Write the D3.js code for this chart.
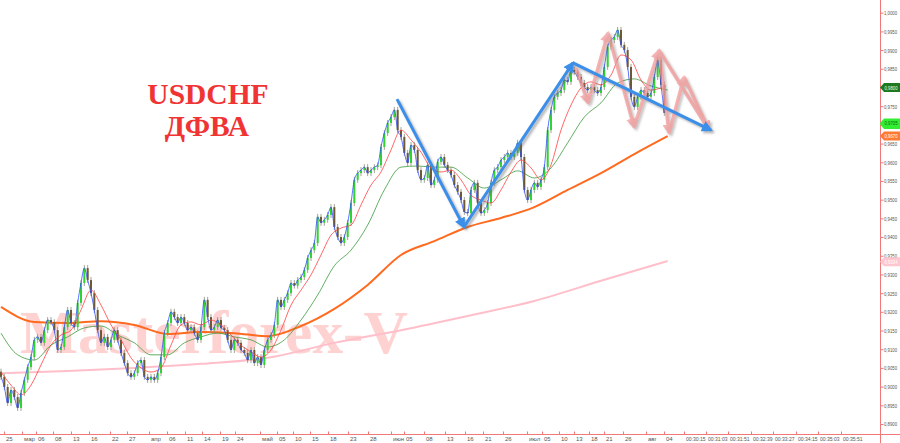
<!DOCTYPE html>
<html><head><meta charset="utf-8">
<script src="https://cdn.jsdelivr.net/npm/d3@7"></script>
<style>html,body{margin:0;padding:0;background:#fff;overflow:hidden}</style>
</head><body><svg id="c" width="900" height="443"></svg>
<script>
// ---- DATA ----
const firstOpen = 0.9040;
const closes = [
0.9026,0.8999,0.8956,0.8991,0.8972,0.8943,0.8983,0.9018,0.9052,0.9079,
0.9125,0.9133,0.9117,0.9151,0.9178,0.9172,0.9151,0.9098,0.9106,0.9159,
0.9205,0.9170,0.9159,0.9224,0.9277,0.9317,0.9285,0.9250,0.9205,0.9151,
0.9117,0.9133,0.9106,0.9125,0.9151,0.9125,0.9090,0.9063,0.9036,0.9026,
0.9036,0.9063,0.9071,0.9026,0.9018,0.9026,0.9018,0.9036,0.9079,0.9143,
0.9170,0.9200,0.9186,0.9170,0.9186,0.9170,0.9151,0.9159,0.9143,0.9125,
0.9159,0.9232,0.9186,0.9151,0.9159,0.9178,0.9157,0.9151,0.9125,0.9098,
0.9125,0.9117,0.9098,0.9090,0.9071,0.9098,0.9063,0.9079,0.9058,0.9098,
0.9125,0.9138,0.9165,0.9232,0.9213,0.9232,0.9250,0.9277,0.9270,0.9285,
0.9293,0.9312,0.9344,0.9365,0.9384,0.9454,0.9438,0.9446,0.9459,0.9480,
0.9427,0.9400,0.9384,0.9400,0.9438,0.9491,0.9553,0.9571,0.9579,0.9587,
0.9571,0.9579,0.9587,0.9592,0.9641,0.9678,0.9705,0.9721,0.9740,0.9686,
0.9668,0.9625,0.9598,0.9646,0.9633,0.9579,0.9553,0.9558,0.9593,0.9539,
0.9553,0.9601,0.9614,0.9593,0.9579,0.9566,0.9539,0.9521,0.9499,0.9467,
0.9464,0.9526,0.9545,0.9491,0.9464,0.9472,0.9491,0.9545,0.9579,0.9587,
0.9606,0.9614,0.9625,0.9614,0.9625,0.9652,0.9614,0.9526,0.9499,0.9526,
0.9545,0.9534,0.9553,0.9587,0.9686,0.9740,0.9775,0.9785,0.9793,0.9820,
0.9815,0.9847,0.9842,0.9828,0.9812,0.9801,0.9793,0.9801,0.9793,0.9785,
0.9801,0.9855,0.9908,0.9927,0.9935,0.9954,0.9914,0.9900,0.9855,0.9775,
0.9748,0.9775,0.9793,0.9785,0.9775,0.9785,0.9828,0.9874,0.9807,0.9732
];
// moving averages (one value every N candles)
const redStep = 3;
const redMA = [
0.9039,0.9004,0.8978,0.9004,0.9058,0.9111,0.9138,0.9151,0.9205,0.9258,
0.9218,0.9165,0.9125,0.9077,0.9050,0.9039,0.9050,0.9111,0.9165,0.9173,
0.9165,0.9178,0.9165,0.9138,0.9111,0.9093,0.9079,0.9098,0.9151,0.9218,
0.9258,0.9299,0.9352,0.9405,0.9424,0.9432,0.9486,0.9539,0.9574,0.9633,
0.9686,0.9660,0.9627,0.9585,0.9574,0.9579,0.9553,0.9512,0.9499,0.9491,
0.9526,0.9574,0.9606,0.9585,0.9553,0.9593,0.9686,0.9753,0.9799,0.9815,
0.9807,0.9833,0.9887,0.9874,0.9820,0.9793,0.9799
];
const greenStep = 5;
const greenMA = [
0.9143,0.9085,0.9071,0.9111,0.9133,0.9157,0.9162,0.9138,0.9117,0.9085,
0.9085,0.9117,0.9133,0.9143,0.9133,0.9125,0.9106,0.9125,0.9178,0.9245,
0.9323,0.9365,0.9432,0.9526,0.9587,0.9590,0.9587,0.9587,0.9558,0.9531,
0.9553,0.9577,0.9558,0.9585,0.9652,0.9721,0.9759,0.9812,0.9823,0.9804,
0.9793
];
const orangeStep = 10;
const orangeMA = [
0.9213,0.9173,0.9170,0.9175,0.9165,0.9141,0.9146,0.9143,0.9135,0.9162,
0.9208,0.9272,0.9352,0.9389,0.9427,0.9451,0.9480,0.9526,0.9571,0.9622,
0.9670
];
const pinkStep = 20;
const pinkMA = [0.9036,0.9042,0.9050,0.9061,0.9077,0.9117,0.9151,0.9189,0.9229,0.9283,0.9336];

const xTickIdx = [0.9,6.3,10.5,15.6,21,26.4,32.7,37.8,44.4,49.8,55.2,60.3,65.7,70.2,
 77.7,82.8,87.6,92.7,98.1,104.1,110.1,117,120.9,126.9,133.2,139.2,144.6,150.6,
 157.8,162.3,167.4,171.9,176.4,180.9,186.6,193.5,198.9,
 204.9,211.5,218.1,225,231.6,238.5,245.1,252];
const xTickLabels = ["25","мар","06","08","13","16","22","27","апр","06","11","14","19","24",
 "май","05","10","15","18","23","28","июн","05","08","13","16","21","26",
 "июл","05","10","13","18","21","26","авг","04",
 "00:30:15","00:31:03","00:31:51","00:32:39","00:33:27","00:34:15","00:35:03","00:35:51"];
const priceTicks = d3.range(0, 23).map(k => 0.89 + k * 0.005);

const tagValues = [0.9701, 0.9705, 0.9800, 0.9670, 0.9334];
const tagTexts = ["0,9701", "0,9705", "0,9800", "0,9670", "0,9334"];

const blueArrowIdx = [[118.8,138.9],[138.9,171.6],[171.6,213]];
const blueArrowPrice = [[0.9769,0.9427],[0.9427,0.9866],[0.9866,0.9686]];
const pinkZigIdx = [172.5,176.1,182.1,189.9,197.4,200.4,204.9,212.4];
const pinkZigPrice = [0.9852,0.9759,0.9946,0.9694,0.9900,0.9678,0.9828,0.9686];
const pinkExtraIdx = [197.4,212.4];
const pinkExtraPrice = [0.9900,0.9686];

// ---- STYLE ----
const tagFill = ["#33ee33","#33ee33","#1e7a1e","#ff7a33","#ffc6cf"];
const tagInk = ["#116611","#116611","#e8ffe8","#ffffff","#ffffff"];
const axisColor = "#f07878";
const labelFont = 'Arial, "Liberation Sans", sans-serif';

// ---- DRAW ----
const svg = d3.select('#c');
const x = d3.scaleLinear().domain([0, 264]).range([1, 881]);
const y = d3.scaleLinear().domain([0.89, 1.0]).range([424, 12.7]);

const defs = svg.append('defs');
const f = defs.append('filter').attr('id','sh').attr('x','-20%').attr('y','-20%').attr('width','140%').attr('height','140%');
f.append('feDropShadow').attr('dx',2).attr('dy',2).attr('stdDeviation',1.3).attr('flood-color','#666').attr('flood-opacity',0.5);
function marker(id, color) {
  defs.append('marker').attr('id', id).attr('viewBox','0 0 10 10').attr('refX',8).attr('refY',5)
    .attr('markerWidth',11).attr('markerHeight',11).attr('markerUnits','userSpaceOnUse').attr('orient','auto')
    .append('path').attr('d','M0,0L10,5L0,10z').attr('fill',color);
}
marker('mb','#3a8fe8');
marker('mp','#f29a9a');

// watermark
svg.append('text').attr('x',20).attr('y',353).attr('font-family','"Liberation Serif", serif')
  .attr('font-weight','bold').attr('font-size',62).attr('fill','#ffd2d2')
  .attr('textLength',388).attr('lengthAdjust','spacingAndGlyphs').text('Masterforex-V');

function maLine(vals, step) {
  return d3.line().x((d,k) => x(k*step)).y(d => y(d)).curve(d3.curveMonotoneX)(vals);
}
svg.append('path').attr('d', maLine(pinkMA, pinkStep)).attr('fill','none').attr('stroke','#ffbfca').attr('stroke-width',2);
svg.append('path').attr('d', maLine(orangeMA, orangeStep)).attr('fill','none').attr('stroke','#ff6a1f').attr('stroke-width',2);
svg.append('path').attr('d', maLine(greenMA, greenStep)).attr('fill','none').attr('stroke','#3a9a3a').attr('stroke-width',0.8);

// candles
const candles = closes.map((c,i) => ({i, o: i ? closes[i-1] : firstOpen, c}));
const cg = svg.append('g');
cg.selectAll('line').data(candles).join('line')
  .attr('x1', d => x(d.i)).attr('x2', d => x(d.i))
  .attr('y1', d => y(Math.max(d.o,d.c)) - 3).attr('y2', d => y(Math.min(d.o,d.c)) + 3)
  .attr('stroke','#8a8a7a').attr('stroke-width',0.8);
cg.selectAll('rect').data(candles).join('rect')
  .attr('x', d => x(d.i) - 1).attr('width', 2)
  .attr('y', d => y(Math.max(d.o,d.c)))
  .attr('height', d => Math.max(1, Math.abs(y(d.o) - y(d.c))))
  .attr('fill', d => d.c >= d.o ? '#2fd42f' : '#6e5a30');

svg.append('path').attr('d', maLine(redMA, redStep)).attr('fill','none').attr('stroke','#ff4040').attr('stroke-width',0.8);
svg.append('path').attr('d', d3.line().x((d,i)=>x(i)).y(d=>y(d)).curve(d3.curveMonotoneX)(closes))
  .attr('fill','none').attr('stroke','#2f4cff').attr('stroke-width',0.8);

// axes
svg.append('line').attr('x1',0).attr('x2',900).attr('y1',434.5).attr('y2',434.5).attr('stroke',axisColor);
svg.append('line').attr('x1',880.5).attr('x2',880.5).attr('y1',0).attr('y2',443).attr('stroke',axisColor);

const yAxis = d3.axisRight(y).tickValues(priceTicks).tickSize(3)
  .tickFormat(d => d.toFixed(4).replace('.', ','));
const ya = svg.append('g').attr('transform','translate(880.5,0)').call(yAxis);
ya.select('.domain').remove();
ya.selectAll('line').attr('stroke', axisColor);
ya.selectAll('text').attr('font-family',labelFont).attr('font-size',6).attr('fill','#555').attr('x',3.5)
  .attr('textLength',13).attr('lengthAdjust','spacingAndGlyphs');

const xAxis = d3.axisBottom(x).tickValues(xTickIdx).tickSize(-3)
  .tickFormat((d,k) => xTickLabels[k]);
const xa = svg.append('g').attr('transform','translate(0,434.5)').call(xAxis);
xa.select('.domain').remove();
xa.selectAll('line').attr('stroke', axisColor);
xa.selectAll('text').attr('font-family',labelFont).attr('font-size',6)
  .attr('fill','#555').attr('text-anchor','start').attr('x',1.5).attr('y',2.5).attr('dy','0.71em')
  .each(function(d,k){ if (xTickLabels[k].length > 4) d3.select(this).attr('textLength',19.5).attr('lengthAdjust','spacingAndGlyphs'); });

// price tags
const tg = svg.append('g');
tagValues.forEach((v,k) => {
  const yy = y(v);
  tg.append('path').attr('d', `M880,${yy}L884,${yy-4.5}L900,${yy-4.5}L900,${yy+4.5}L884,${yy+4.5}Z`).attr('fill', tagFill[k]);
  tg.append('text').attr('x',884.5).attr('y',yy+2.2).attr('font-family',labelFont).attr('font-size',6)
    .attr('textLength',13).attr('lengthAdjust','spacingAndGlyphs')
    .attr('fill', tagInk[k]).text(tagTexts[k]);
});

// arrows
const ag = svg.append('g').attr('filter','url(#sh)');
const pg = ag.append('g').attr('opacity',0.75);
for (let k = 0; k < pinkZigIdx.length - 1; k++) {
  pg.append('line').attr('x1', x(pinkZigIdx[k])).attr('y1', y(pinkZigPrice[k]))
    .attr('x2', x(pinkZigIdx[k+1])).attr('y2', y(pinkZigPrice[k+1]))
    .attr('stroke','#f29a9a').attr('stroke-width',3.5).attr('marker-end','url(#mp)');
}
pg.append('line').attr('x1', x(pinkExtraIdx[0])).attr('y1', y(pinkExtraPrice[0]))
  .attr('x2', x(pinkExtraIdx[1])).attr('y2', y(pinkExtraPrice[1]))
  .attr('stroke','#f29a9a').attr('stroke-width',3.5).attr('marker-end','url(#mp)');
blueArrowIdx.forEach((seg,k) => {
  ag.append('line').attr('x1', x(seg[0])).attr('y1', y(blueArrowPrice[k][0]))
    .attr('x2', x(seg[1])).attr('y2', y(blueArrowPrice[k][1]))
    .attr('stroke','#3a8fe8').attr('stroke-width',3).attr('marker-end','url(#mb)');
});

// title
const tt = svg.append('g').attr('font-family','"Liberation Serif", "Times New Roman", serif')
  .attr('font-weight','bold').attr('font-size',29.5).attr('fill','#f03434').attr('text-anchor','middle');
tt.append('text').attr('x',208).attr('y',104).text('USDCHF');
tt.append('text').attr('x',207).attr('y',136).text('ДФВА');
</script></body></html>
